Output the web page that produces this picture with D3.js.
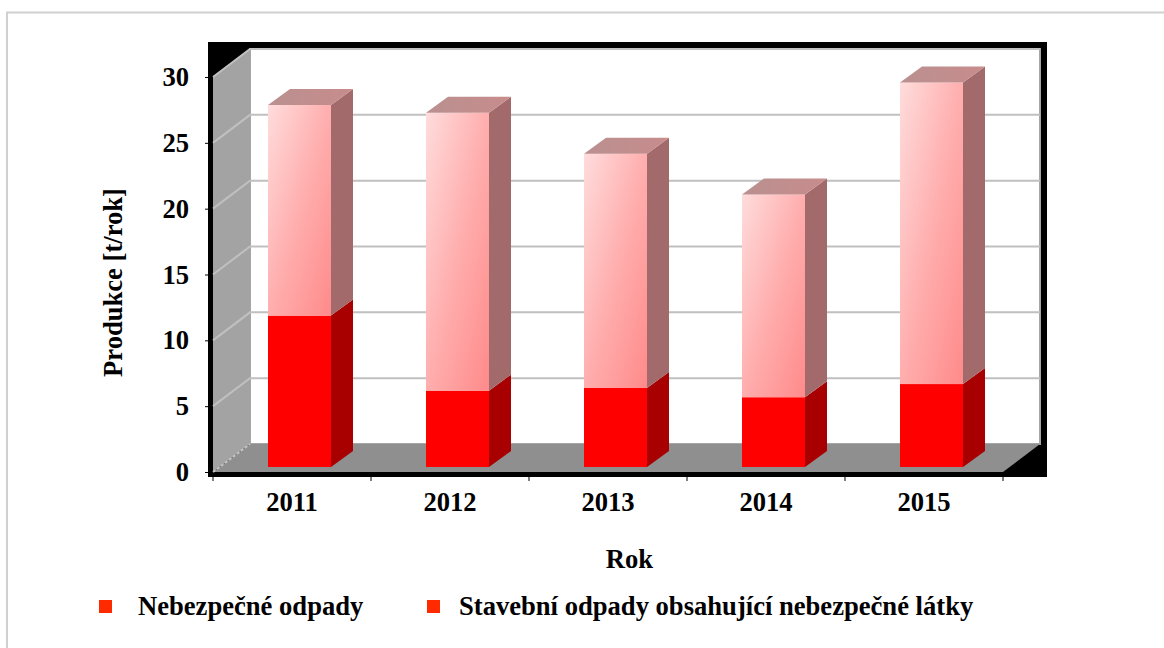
<!DOCTYPE html>
<html>
<head>
<meta charset="utf-8">
<script src="https://cdn.jsdelivr.net/npm/d3@7"></script>
<style>
  html, body { margin: 0; padding: 0; background: #fff; }
  svg { display: block; }
  text { font-family: "Liberation Serif", serif; font-weight: bold; fill: #000; }
</style>
</head>
<body>
<script>
const categories = ["2011", "2012", "2013", "2014", "2015"];
const hazardous = [11.5, 5.8, 6.0, 5.3, 6.3];
const construction = [16.0, 21.1, 17.8, 15.4, 22.9];
const yTicks = [0, 5, 10, 15, 20, 25, 30];
const seriesNames = ["Nebezpečné odpady", "Stavební odpady obsahující nebezpečné látky"];

const width = 1164, height = 648;
const frontLeft = 213, frontRight = 1003, frontBottom = 472, frontTop = 77;
const depthX = 37, depthY = 28;      // wall depth
const barDepthX = 22, barDepthY = 16; // bar depth
const barWidth = 63;
const fontSize = 26.6;

const svg = d3.select("body").append("svg")
  .attr("width", width)
  .attr("height", height);

// gradients for the upper part of the bars
const defs = svg.append("defs");
const grad = defs.append("linearGradient")
  .attr("id", "pinkFace")
  .attr("x1", 0).attr("y1", 0).attr("x2", 1).attr("y2", 1);
grad.append("stop").attr("offset", "0%").attr("stop-color", "#ffdcdc");
grad.append("stop").attr("offset", "50%").attr("stop-color", "#ffaeae");
grad.append("stop").attr("offset", "100%").attr("stop-color", "#ff8a8a");

const gradTop = defs.append("linearGradient")
  .attr("id", "pinkTop")
  .attr("x1", 0).attr("y1", 0).attr("x2", 1).attr("y2", 0);
gradTop.append("stop").attr("offset", "0%").attr("stop-color", "#ba9090");
gradTop.append("stop").attr("offset", "100%").attr("stop-color", "#c88c8c");

const x = d3.scaleBand().domain(categories).range([frontLeft, frontRight]);
const y = d3.scaleLinear().domain([0, 30]).range([frontBottom, frontTop]);

const poly = pts => pts.map(p => p.join(",")).join(" ");

// chart border, only left and top fall inside the picture
svg.append("polyline")
  .attr("points", poly([[7, height], [7, 12.5], [width, 12.5]]))
  .attr("fill", "none").attr("stroke", "#d0d0d0").attr("stroke-width", 2);

// black frame round the plot
svg.append("rect")
  .attr("x", 208).attr("y", 42)
  .attr("width", 839).attr("height", 435)
  .attr("fill", "#000");

// back wall
svg.append("rect")
  .attr("x", frontLeft + depthX).attr("y", y(30) - depthY)
  .attr("width", frontRight - frontLeft)
  .attr("height", frontBottom - frontTop)
  .attr("fill", "#fff")
  .attr("stroke", "#a6a6a6").attr("stroke-width", 2);

// side wall
svg.append("polygon")
  .attr("points", poly([
    [frontLeft, y(0)], [frontLeft, y(30)],
    [frontLeft + depthX, y(30) - depthY], [frontLeft + depthX, y(0) - depthY]
  ]))
  .attr("fill", "#a3a3a3");

// floor
svg.append("polygon")
  .attr("points", poly([
    [frontLeft, y(0)], [frontLeft + depthX, y(0) - depthY],
    [frontRight + depthX, y(0) - depthY], [frontRight, y(0)]
  ]))
  .attr("fill", "#8f8f8f");

// grid lines
yTicks.forEach(t => {
  const g = svg.append("polyline")
    .attr("points", poly([
      [frontLeft, y(t)],
      [frontLeft + depthX, y(t) - depthY],
      [frontRight + depthX, y(t) - depthY]
    ]))
    .attr("fill", "none")
    .attr("stroke", "#c0c0c0")
    .attr("stroke-width", 2);
  if (t == 0) g.attr("stroke-dasharray", "3 2").attr("points", poly([
    [frontLeft, y(t)], [frontLeft + depthX, y(t) - depthY]
  ]));
});

// stacked bars, bottom series first
const barBase = frontBottom - 5;
function drawBlock(cat, from, to, front, side, top) {
  const x0 = x(cat) + (x.bandwidth() - barWidth + depthX - barDepthX) / 2;
  const x1 = x0 + barWidth;
  const y0 = y(from) - (frontBottom - barBase);
  const y1 = y(to) - (frontBottom - barBase);
  svg.append("polygon")
    .attr("points", poly([
      [x1, y0], [x1, y1], [x1 + barDepthX, y1 - barDepthY], [x1 + barDepthX, y0 - barDepthY]
    ]))
    .attr("fill", side);
  svg.append("rect")
    .attr("x", x0).attr("y", y1)
    .attr("width", barWidth).attr("height", y0 - y1)
    .attr("fill", front);
  if (top) {
    svg.append("polygon")
      .attr("points", poly([
        [x0, y1], [x1, y1], [x1 + barDepthX, y1 - barDepthY], [x0 + barDepthX, y1 - barDepthY]
      ]))
      .attr("fill", top);
  }
}

categories.forEach((cat, i) => {
  const low = hazardous[i], total = low + construction[i];
  drawBlock(cat, 0, low, "#ff0000", "#a80000", null);
  drawBlock(cat, low, total, "url(#pinkFace)", "#a26a6a", "url(#pinkTop)");
});

// axes
const yAxis = d3.axisLeft(y).tickValues(yTicks).tickSize(3).tickPadding(16);
const yG = svg.append("g")
  .attr("transform", "translate(208,0)")
  .call(yAxis);
yG.select(".domain").remove();
yG.selectAll("line").attr("stroke", "#000");
yG.selectAll("text")
  .attr("font-size", fontSize)
  .style("font-family", '"Liberation Serif", serif');

const xAxis = d3.axisBottom(x).tickSize(0).tickPadding(20);
const xG = svg.append("g")
  .attr("transform", `translate(0,${frontBottom})`)
  .call(xAxis);
xG.select(".domain").remove();
xG.selectAll("text")
  .attr("font-size", fontSize)
  .style("font-family", '"Liberation Serif", serif');

// x ticks sit between the categories
const xEdges = categories.map(c => x(c)).concat(frontRight);
svg.selectAll(".xedge").data(xEdges).enter().append("line")
  .attr("class", "xedge")
  .attr("x1", d => d).attr("x2", d => d)
  .attr("y1", frontBottom + 5).attr("y2", frontBottom + 9)
  .attr("stroke", "#000");

// axis titles
svg.append("text")
  .attr("x", 629.5).attr("y", 568)
  .attr("text-anchor", "middle")
  .attr("font-size", fontSize)
  .text("Rok");

svg.append("text")
  .attr("transform", "translate(122,282.5) rotate(-90)")
  .attr("text-anchor", "middle")
  .attr("font-size", fontSize)
  .text("Produkce [t/rok]");

// legend
const legendX = [99, 427], legendText = [138, 459];
seriesNames.forEach((name, i) => {
  svg.append("rect")
    .attr("x", legendX[i]).attr("y", 600)
    .attr("width", 13).attr("height", 13)
    .attr("fill", "#ff2a00");
  svg.append("text")
    .attr("x", legendText[i]).attr("y", 615)
    .attr("font-size", fontSize)
    .text(name);
});
</script>
</body>
</html>
